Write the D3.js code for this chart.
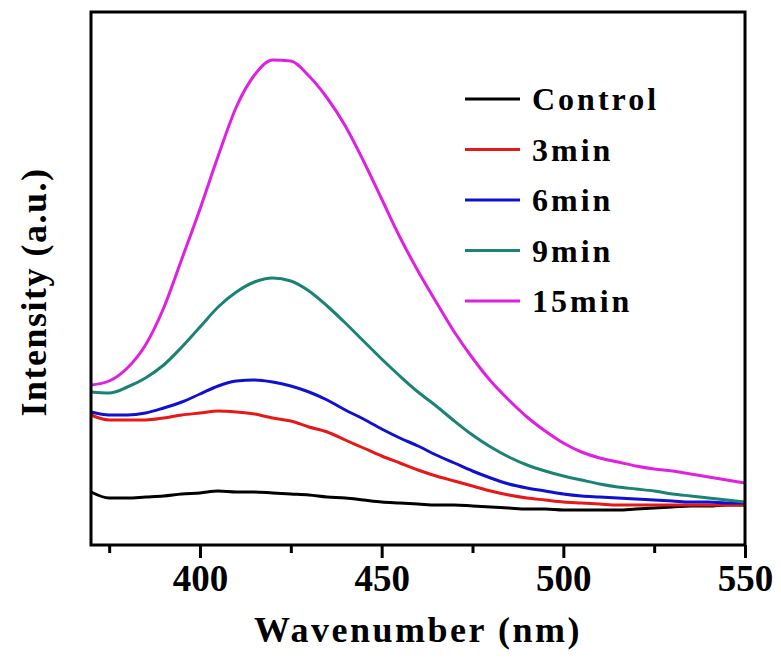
<!DOCTYPE html>
<html>
<head>
<meta charset="utf-8">
<script src="https://cdn.jsdelivr.net/npm/d3@7"></script>
<style>
  body { margin: 0; background: #fff; }
  text { font-family: "Liberation Serif", "Times New Roman", serif; font-weight: bold; }
</style>
</head>
<body>
<svg id="chart" width="781" height="661"></svg>
<script>
// wavelength grid (nm)
const wavelengths = [370, 375, 380, 385, 390, 395, 400, 405, 410, 415, 420, 425, 430, 435, 440, 445, 450, 455, 460, 465,
  470, 475, 480, 485, 490, 495, 500, 505, 510, 515, 520, 525, 530, 535, 540, 545, 550];

const control = [53, 47, 47, 48, 49, 51, 52, 54, 53, 53, 52, 51, 50, 48, 47, 45, 43, 42, 41, 40,
  40, 39, 38, 37, 36, 36, 35, 35, 35, 35, 36, 37, 38, 39, 39, 40, 40];
const min3 = [130, 125, 125, 125, 127, 130, 132, 134, 133, 131, 127, 124, 118, 113, 105, 97, 89, 82, 75, 69,
  64, 59, 54, 50, 47, 45, 43, 42, 41, 40, 40, 40, 40, 40, 40, 40, 40];
const min6 = [133, 130, 130, 132, 137, 143, 151, 159, 164, 165, 163, 159, 153, 145, 135, 126, 116, 107, 99, 90,
  82, 74, 67, 61, 57, 54, 51, 49, 48, 47, 46, 45, 44, 43, 43, 42, 42];
const min9 = [153, 152, 158, 167, 180, 198, 218, 238, 253, 263, 267, 264, 254, 239, 222, 204, 186, 169, 153, 139,
  124, 110, 98, 88, 80, 74, 69, 65, 61, 58, 56, 54, 51, 49, 47, 45, 43];
const min15 = [160, 164, 177, 200, 237, 286, 336, 389, 438, 470, 485, 484, 469, 447, 419, 384, 346, 308, 274, 243,
  213, 187, 164, 145, 128, 114, 102, 93, 87, 83, 79, 76, 74, 71, 68, 65, 62];

const seriesNames = ["Control", "3min", "6min", "9min", "15min"];
const seriesValues = [control, min3, min6, min9, min15];
const colors = ["#000000", "#e81818", "#1010d0", "#1b8276", "#e020e0"];

const majorTicks = [400, 450, 500, 550];
const minorTicks = [375, 425, 475, 525];

const margin = { top: 12, right: 36, bottom: 116, left: 91 };
const width = 781 - margin.left - margin.right;
const height = 661 - margin.top - margin.bottom;

const svg = d3.select("#chart");
const g = svg.append("g").attr("transform", `translate(${margin.left},${margin.top})`);

const x = d3.scaleLinear().domain([370, 550]).range([0, width]);
const y = d3.scaleLinear().domain([0, 533]).range([height, 0]);

// ticks (minor first, then major with labels)
g.append("g")
  .attr("transform", `translate(0,${height})`)
  .call(d3.axisBottom(x).tickValues(minorTicks).tickSize(8).tickFormat(""))
  .call(a => a.select(".domain").remove())
  .call(a => a.selectAll("line").attr("stroke", "#000").attr("stroke-width", 3));

g.append("g")
  .attr("transform", `translate(0,${height})`)
  .call(d3.axisBottom(x).tickValues(majorTicks).tickSize(13).tickPadding(7))
  .call(a => a.select(".domain").remove())
  .call(a => a.selectAll("line").attr("stroke", "#000").attr("stroke-width", 3))
  .call(a => a.selectAll("text")
    .attr("fill", "#000")
    .style("font-size", "37px")
    .style("font-family", "'Liberation Serif', serif")
    .style("font-weight", "bold"));

// curves
const line = d3.line()
  .x((d, i) => x(wavelengths[i]))
  .y(d => y(d))
  .curve(d3.curveMonotoneX);

g.selectAll(".curve")
  .data(seriesValues)
  .enter()
  .append("path")
  .attr("class", "curve")
  .attr("d", d => line(d))
  .attr("fill", "none")
  .attr("stroke", (d, i) => colors[i])
  .attr("stroke-width", 3);

// frame
g.append("rect")
  .attr("x", 0)
  .attr("y", 0)
  .attr("width", width)
  .attr("height", height)
  .attr("fill", "none")
  .attr("stroke", "#000")
  .attr("stroke-width", 3);

// legend
const legend = g.selectAll(".legend")
  .data(seriesNames)
  .enter().append("g")
  .attr("class", "legend")
  .attr("transform", (d, i) => `translate(${374},${87 + i * 50.5})`);

legend.append("line")
  .attr("x1", 0)
  .attr("x2", 55)
  .attr("stroke", (d, i) => colors[i])
  .attr("stroke-width", 3);

legend.append("text")
  .attr("x", 67)
  .attr("y", 11)
  .style("font-size", "32px")
  .style("letter-spacing", "3px")
  .text(d => d);

// axis titles
svg.append("text")
  .attr("x", 418)
  .attr("y", 642)
  .attr("text-anchor", "middle")
  .style("font-size", "36px")
  .style("letter-spacing", "2.5px")
  .text("Wavenumber (nm)");

svg.append("text")
  .attr("transform", "rotate(-90)")
  .attr("x", -292)
  .attr("y", 46)
  .attr("text-anchor", "middle")
  .style("font-size", "36px")
  .style("letter-spacing", "1.5px")
  .text("Intensity (a.u.)");
</script>
</body>
</html>
